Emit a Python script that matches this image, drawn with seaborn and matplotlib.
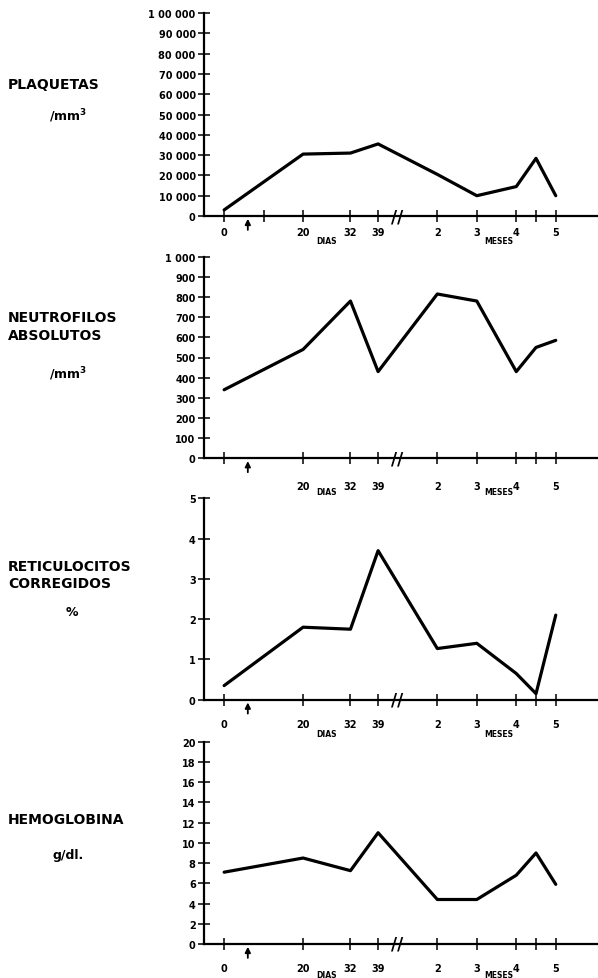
import matplotlib
matplotlib.use('Agg')
import matplotlib.pyplot as plt
import seaborn as sns

# time points: days 0, 20, 32, 39 then months 2, 3, 4, 4.5, 5 (broken axis)
x_pos = [0, 20, 32, 39, 54, 64, 74, 79, 84]
tick_pos = [0, 20, 32, 39, 54, 64, 74, 79, 84]
tick_lab = ['0', '20', '32', '39', '2', '3', '4', '', '5']

plaquetas = [3000, 30500, 31000, 35500, 20500, 10000, 14500, 28400, 10000]
neutrofilos = [340, 540, 780, 430, 815, 780, 430, 550, 585]
reticulocitos = [0.35, 1.8, 1.75, 3.7, 1.27, 1.4, 0.65, 0.15, 2.1]
hemoglobina = [7.1, 8.5, 7.25, 11.0, 4.4, 4.4, 6.8, 9.0, 5.9]

plaq_ticks = list(range(0, 100001, 10000))
plaq_labels = ['0', '10 000', '20 000', '30 000', '40 000', '50 000', '60 000',
               '70 000', '80 000', '90 000', '1 00 000']
neut_ticks = list(range(0, 1001, 100))
neut_labels = ['0', '100', '200', '300', '400', '500', '600', '700', '800', '900', '1 000']
ret_ticks = [0, 1, 2, 3, 4, 5]
hb_ticks = list(range(0, 21, 2))

W, H = 598, 979
sns.set_style('ticks')
plt.rcParams['font.family'] = ['DejaVu Sans']
plt.rcParams['font.weight'] = 'bold'
plt.rcParams['text.color'] = 'black'

fig = plt.figure(figsize=(W / 100, H / 100), dpi=100)

def add_panel(top, bottom, values, yticks, ylabels, xpad, dias_off, extra_tick=False, show_zero=True):
    ax = fig.add_axes([204 / W, 1 - bottom / H, (W - 204) / W, (bottom - top) / H])
    sns.lineplot(x=x_pos, y=values, ax=ax, color='black', linewidth=2.3)
    ax.set_xlim(-5.1, 94.7)
    ax.set_ylim(yticks[0], yticks[-1])
    ax.set_yticks(yticks)
    ax.set_yticklabels(ylabels)
    xt = list(tick_pos)
    xl = list(tick_lab)
    if not show_zero:
        xl[0] = ''
    if extra_tick:
        xt.append(10)
        xl.append('')
    ax.set_xticks(xt)
    ax.set_xticklabels(xl)
    for s in ['top', 'right']:
        ax.spines[s].set_visible(False)
    for s in ['left', 'bottom']:
        ax.spines[s].set_linewidth(1.6)
        ax.spines[s].set_color('black')
    ax.tick_params(axis='both', direction='inout', length=8, width=1.1,
                   labelsize=7, colors='black')
    ax.tick_params(axis='x', pad=xpad)
    ax.tick_params(axis='y', pad=2)
    ax.set_xlabel('')
    ax.set_ylabel('')
    # axis break mark
    ax.text(43.8, 0, '//', ha='center', va='center', fontsize=12,
            fontweight='bold', clip_on=False)
    # arrow marker at day 6
    ax.annotate('', xy=(6, yticks[0]), xytext=(0, -12), textcoords='offset points',
                arrowprops=dict(arrowstyle='-|>', color='black', lw=1.3, mutation_scale=8),
                annotation_clip=False)
    ax.annotate('DIAS', xy=(26, 0), xycoords=('data', 'axes fraction'),
                xytext=(0, -dias_off), textcoords='offset points',
                ha='center', va='center', fontsize=5.5)
    ax.annotate('MESES', xy=(69.5, 0), xycoords=('data', 'axes fraction'),
                xytext=(0, -dias_off), textcoords='offset points',
                ha='center', va='center', fontsize=5.5)
    return ax

add_panel(14, 217, plaquetas, plaq_ticks, plaq_labels, 4, 18, extra_tick=True)
add_panel(257.7, 459.3, neutrofilos, neut_ticks, neut_labels, 12, 24, show_zero=False)
add_panel(499.3, 700.7, reticulocitos, ret_ticks, [str(t) for t in ret_ticks], 10, 24)
add_panel(742.7, 945, hemoglobina, hb_ticks, [str(t) for t in hb_ticks], 10, 22)

def label(x, y, s, ha='left', size=10):
    fig.text(x / W, 1 - y / H, s, ha=ha, va='center', fontsize=size, fontweight='bold')

label(8, 85, 'PLAQUETAS')
label(68, 116, '/mm$^{\\mathbf{3}}$', ha='center', size=9)
label(8, 318, 'NEUTROFILOS')
label(8, 336, 'ABSOLUTOS')
label(68, 374, '/mm$^{\\mathbf{3}}$', ha='center', size=9)
label(8, 567, 'RETICULOCITOS')
label(8, 584, 'CORREGIDOS')
label(72, 613, '%', ha='center', size=9)
label(8, 820, 'HEMOGLOBINA')
label(68, 856, 'g/dl.', ha='center', size=9)

fig.savefig('out.png', dpi=100)
